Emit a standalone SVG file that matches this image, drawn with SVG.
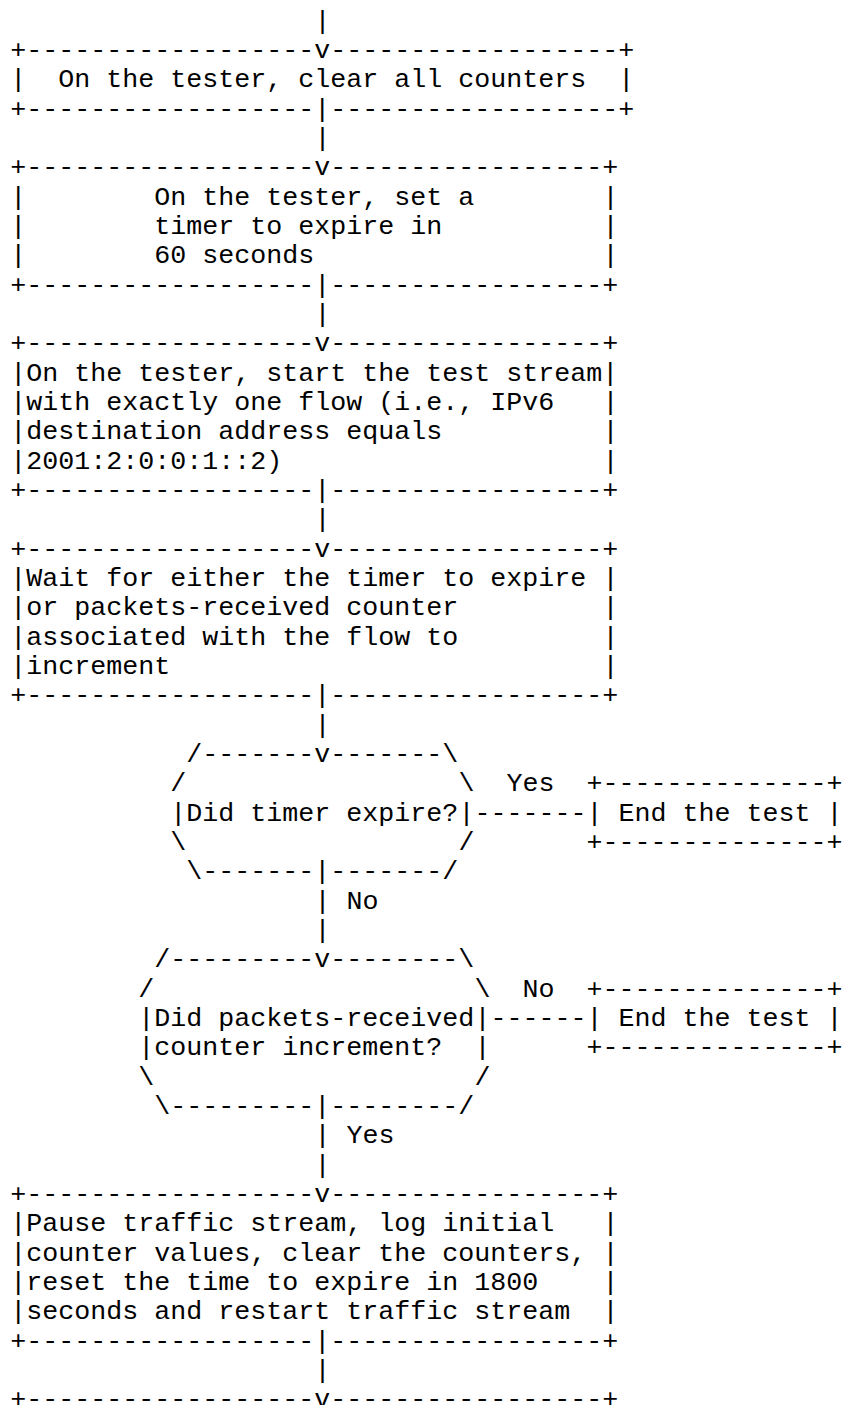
<svg xmlns="http://www.w3.org/2000/svg" width="844" height="1405" viewBox="0 0 844 1405" xml:space="preserve">
<style>
text { font-family: "Liberation Mono", "Courier New", monospace; font-size: 26.67px; fill: #000000; white-space: pre; }
</style>
<rect x="0" y="0" width="844" height="1405" fill="#ffffff"/>
<g id="connectors">
  <text x="314.4" y="28.63">|</text>
  <text x="314.4" y="145.97">|</text>
  <text x="314.4" y="321.97">|</text>
  <text x="314.4" y="527.3">|</text>
  <text x="314.4" y="732.63">|</text>
  <text x="474.45" y="820.63">-------</text>
  <text x="506.46" y="791.3">Yes</text>
  <text x="314.4" y="908.63">|</text>
  <text x="346.41" y="908.63">No</text>
  <text x="314.4" y="937.97">|</text>
  <text x="490.45" y="1025.97">------</text>
  <text x="522.46" y="996.63">No</text>
  <text x="314.4" y="1143.3">|</text>
  <text x="346.41" y="1143.3">Yes</text>
  <text x="314.4" y="1172.63">|</text>
  <text x="314.4" y="1377.97">|</text>
</g>
<g id="clear-counters">
  <text x="10.3" y="57.97">+------------------v------------------+</text>
  <text x="10.3" y="87.3">|  On the tester, clear all counters  |</text>
  <text x="10.3" y="116.63">+------------------|------------------+</text>
</g>
<g id="set-timer">
  <text x="10.3" y="175.3">+------------------v-----------------+</text>
  <text x="10.3" y="204.63">|</text><text x="154.35" y="204.63">On the tester, set a</text><text x="602.49" y="204.63">|</text>
  <text x="10.3" y="233.97">|</text><text x="154.35" y="233.97">timer to expire in</text><text x="602.49" y="233.97">|</text>
  <text x="10.3" y="263.3">|</text><text x="154.35" y="263.3">60 seconds</text><text x="602.49" y="263.3">|</text>
  <text x="10.3" y="292.63">+------------------|-----------------+</text>
</g>
<g id="start-stream">
  <text x="10.3" y="351.3">+------------------v-----------------+</text>
  <text x="10.3" y="380.63">|On the tester, start the test stream|</text>
  <text x="10.3" y="409.97">|</text><text x="26.31" y="409.97">with exactly one flow (i.e., IPv6</text><text x="602.49" y="409.97">|</text>
  <text x="10.3" y="439.3">|</text><text x="26.31" y="439.3">destination address equals</text><text x="602.49" y="439.3">|</text>
  <text x="10.3" y="468.63">|</text><text x="26.31" y="468.63">2001:2:0:0:1::2)</text><text x="602.49" y="468.63">|</text>
  <text x="10.3" y="497.97">+------------------|-----------------+</text>
</g>
<g id="wait">
  <text x="10.3" y="556.63">+------------------v-----------------+</text>
  <text x="10.3" y="585.97">|</text><text x="26.31" y="585.97">Wait for either the timer to expire</text><text x="602.49" y="585.97">|</text>
  <text x="10.3" y="615.3">|</text><text x="26.31" y="615.3">or packets-received counter</text><text x="602.49" y="615.3">|</text>
  <text x="10.3" y="644.63">|</text><text x="26.31" y="644.63">associated with the flow to</text><text x="602.49" y="644.63">|</text>
  <text x="10.3" y="673.97">|</text><text x="26.31" y="673.97">increment</text><text x="602.49" y="673.97">|</text>
  <text x="10.3" y="703.3">+------------------|-----------------+</text>
</g>
<g id="timer-expired">
  <text x="186.36" y="761.97">/-------v-------\</text>
  <text x="170.35" y="791.3">/</text><text x="458.44" y="791.3">\</text>
  <text x="170.35" y="820.63">|</text><text x="186.36" y="820.63">Did timer expire?</text><text x="458.44" y="820.63">|</text>
  <text x="170.35" y="849.97">\</text><text x="458.44" y="849.97">/</text>
  <text x="186.36" y="879.3">\-------|-------/</text>
</g>
<g id="end-test-1">
  <text x="586.48" y="791.3">+--------------+</text>
  <text x="586.48" y="820.63">| End the test |</text>
  <text x="586.48" y="849.97">+--------------+</text>
</g>
<g id="counter-incremented">
  <text x="154.35" y="967.3">/---------v--------\</text>
  <text x="138.34" y="996.63">/</text><text x="474.45" y="996.63">\</text>
  <text x="138.34" y="1025.97">|</text><text x="154.35" y="1025.97">Did packets-received</text><text x="474.45" y="1025.97">|</text>
  <text x="138.34" y="1055.3">|</text><text x="154.35" y="1055.3">counter increment?</text><text x="474.45" y="1055.3">|</text>
  <text x="138.34" y="1084.63">\</text><text x="474.45" y="1084.63">/</text>
  <text x="154.35" y="1113.97">\---------|--------/</text>
</g>
<g id="end-test-2">
  <text x="586.48" y="996.63">+--------------+</text>
  <text x="586.48" y="1025.97">| End the test |</text>
  <text x="586.48" y="1055.3">+--------------+</text>
</g>
<g id="pause-log">
  <text x="10.3" y="1201.97">+------------------v-----------------+</text>
  <text x="10.3" y="1231.3">|</text><text x="26.31" y="1231.3">Pause traffic stream, log initial</text><text x="602.49" y="1231.3">|</text>
  <text x="10.3" y="1260.63">|</text><text x="26.31" y="1260.63">counter values, clear the counters,</text><text x="602.49" y="1260.63">|</text>
  <text x="10.3" y="1289.97">|</text><text x="26.31" y="1289.97">reset the time to expire in 1800</text><text x="602.49" y="1289.97">|</text>
  <text x="10.3" y="1319.3">|</text><text x="26.31" y="1319.3">seconds and restart traffic stream</text><text x="602.49" y="1319.3">|</text>
  <text x="10.3" y="1348.63">+------------------|-----------------+</text>
</g>
<g id="next-box">
  <text x="10.3" y="1407.3">+------------------v-----------------+</text>
</g>
</svg>
